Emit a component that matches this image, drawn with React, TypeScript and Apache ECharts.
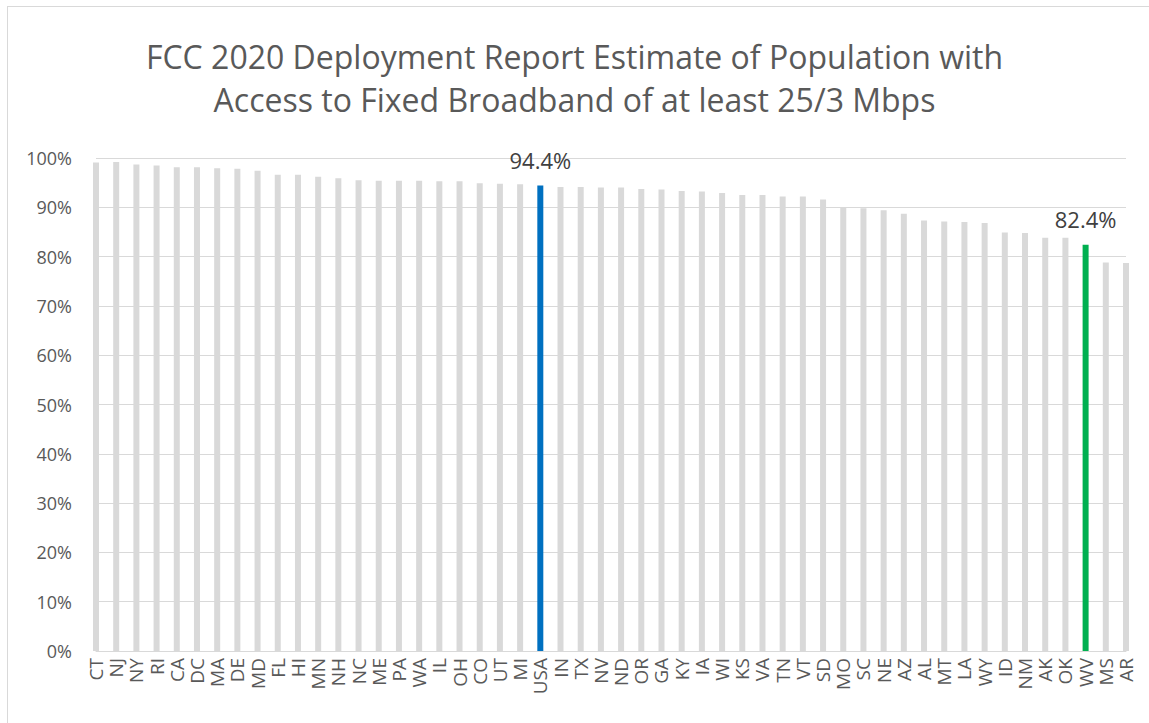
import React, { useEffect, useRef } from "react";
import * as echarts from "echarts";

const titleLines = [
  "FCC 2020 Deployment Report Estimate of Population with",
  "Access to Fixed Broadband of at least 25/3 Mbps",
];

const states = [
  "CT", "NJ", "NY", "RI", "CA", "DC", "MA", "DE", "MD", "FL", "HI", "MN", "NH",
  "NC", "ME", "PA", "WA", "IL", "OH", "CO", "UT", "MI", "USA", "IN", "TX", "NV",
  "ND", "OR", "GA", "KY", "IA", "WI", "KS", "VA", "TN", "VT", "SD", "MO", "SC",
  "NE", "AZ", "AL", "MT", "LA", "WY", "ID", "NM", "AK", "OK", "WV", "MS", "AR",
];

const coverage = [
  99.1, 99.2, 98.7, 98.5, 98.1, 98.1, 97.9, 97.8, 97.4, 96.6, 96.6, 96.2, 95.9,
  95.5, 95.4, 95.4, 95.4, 95.3, 95.3, 94.9, 94.8, 94.7, 94.4, 94.1, 94.1, 94.0,
  94.0, 93.7, 93.6, 93.3, 93.2, 92.9, 92.5, 92.5, 92.2, 92.2, 91.6, 89.9, 89.8,
  89.4, 88.7, 87.3, 87.1, 87.0, 86.8, 84.9, 84.8, 83.8, 83.8, 82.4, 78.8, 78.7,
];

const highlights: Record<string, string> = { USA: "#0070C0", WV: "#00B050" };
const yTicks = [0, 10, 20, 30, 40, 50, 60, 70, 80, 90, 100];

export default function App() {
  const ref = useRef<HTMLDivElement>(null);
  useEffect(() => {
    if (!ref.current) return;
    const chart = echarts.init(ref.current, undefined, { renderer: "svg" });
    const font = "'Open Sans', 'Liberation Sans', sans-serif";
    chart.setOption({
      animation: false,
      backgroundColor: "#ffffff",
      title: {
        text: titleLines.join("\n"),
        left: "center",
        top: 30,
        textStyle: {
          fontFamily: font,
          fontSize: 32,
          fontWeight: "normal",
          color: "#595959",
          lineHeight: 43,
        },
      },
      graphic: [
        { type: "line", shape: { x1: 7.5, y1: 6, x2: 7.5, y2: 723 }, style: { stroke: "#d9d9d9", lineWidth: 1 } },
        { type: "line", shape: { x1: 7, y1: 6.5, x2: 1149, y2: 6.5 }, style: { stroke: "#d9d9d9", lineWidth: 1 } },
      ],
      grid: { left: 96, right: 23, top: 158, bottom: 72, containLabel: false },
      xAxis: {
        type: "category",
        data: states,
        boundaryGap: false,
        axisLine: { lineStyle: { color: "#d9d9d9", width: 1 } },
        axisTick: { show: false },
        axisLabel: {
          interval: 0,
          rotate: 90,
          margin: 7,
          fontFamily: font,
          fontSize: 19,
          color: "#595959",
        },
      },
      yAxis: {
        type: "value",
        min: 0,
        max: 100,
        interval: 10,
        axisLine: { show: false },
        axisTick: { show: false },
        splitLine: { lineStyle: { color: "#d9d9d9", width: 1 } },
        axisLabel: {
          margin: 24,
          fontFamily: font,
          fontSize: 18,
          color: "#595959",
          formatter: (v: number) => (yTicks.includes(v) ? `${v}%` : ""),
        },
      },
      series: [
        {
          type: "bar",
          barWidth: 6,
          clip: true,
          data: coverage.map((v, i) => {
            const c = highlights[states[i]];
            return {
              value: v,
              itemStyle: { color: c || "#D9D9D9" },
              label: c
                ? {
                    show: true,
                    position: "top",
                    distance: 15,
                    formatter: `${v.toFixed(1)}%`,
                    fontFamily: font,
                    fontSize: 22,
                    color: "#404040",
                  }
                : { show: false },
            };
          }),
        },
      ],
    });
    return () => chart.dispose();
  }, []);
  return (
    <div
      ref={ref}
      style={{ position: "fixed", left: 0, top: 0, width: 1149, height: 723 }}
    />
  );
}
